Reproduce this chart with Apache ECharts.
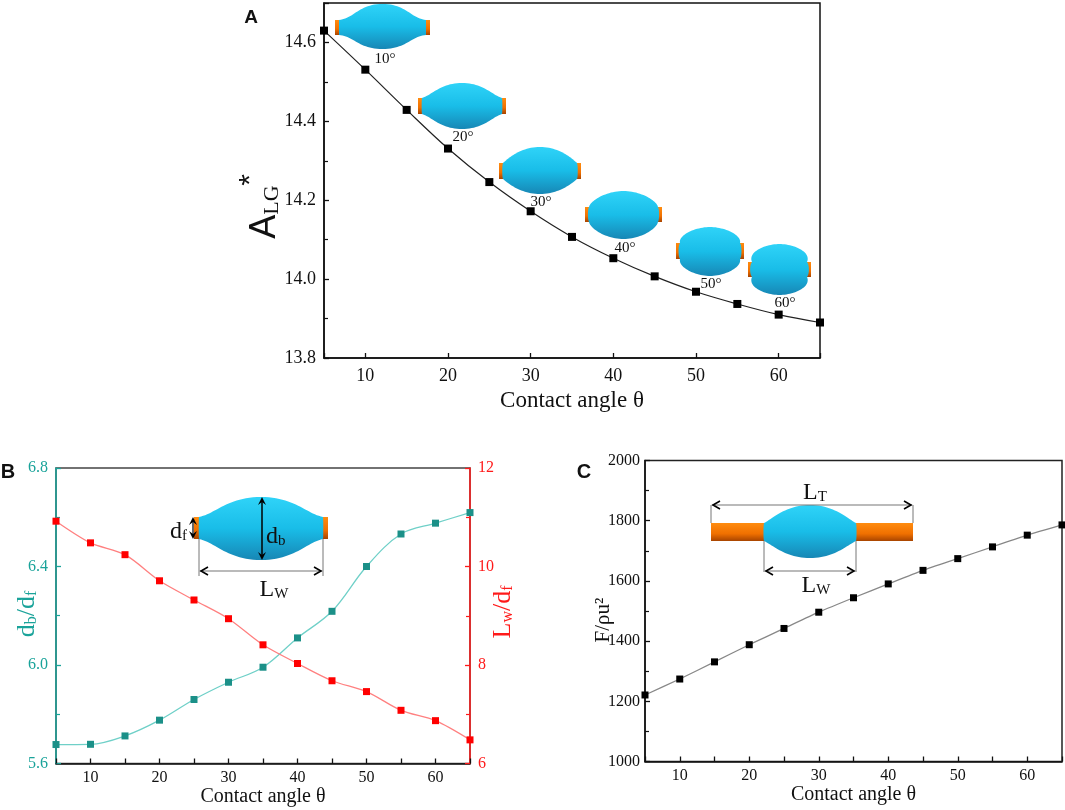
<!DOCTYPE html>
<html>
<head>
<meta charset="utf-8">
<script src="https://cdn.jsdelivr.net/npm/echarts@6/dist/echarts.min.js"></script>
<style>
html,body{margin:0;padding:0;background:#fff;}
#main{width:1065px;height:810px;}
</style>
</head>
<body>
<div id="main"></div>
<script>
// ---------- data ----------
const angles = [5, 10, 15, 20, 25, 30, 35, 40, 45, 50, 55, 60, 65];
const areaLG = [14.630, 14.531, 14.429, 14.331, 14.246, 14.172, 14.107, 14.053, 14.007, 13.968, 13.937, 13.910, 13.890];
const dbOverDf = [5.677, 5.678, 5.712, 5.776, 5.860, 5.930, 5.991, 6.110, 6.218, 6.400, 6.532, 6.576, 6.619];
const lwOverDf = [10.92, 10.48, 10.24, 9.71, 9.32, 8.94, 8.41, 8.03, 7.68, 7.46, 7.08, 6.87, 6.48];
const forceF = [1221, 1274, 1331, 1388, 1442, 1496, 1544, 1590, 1635, 1674, 1713, 1752, 1786];
const insetAngles = ['10°', '20°', '30°', '40°', '50°', '60°'];

const SERIF = 'Liberation Serif, Times New Roman, serif';
const SANS = 'Liberation Sans, Arial, sans-serif';
const TEAL = '#1aa39a';
const RED = '#ff1a1a';

function pairs(xs, ys) { return xs.map((x, i) => [x, ys[i]]); }

const chart = echarts.init(document.getElementById('main'), null, {renderer: 'canvas'});

// ---------- decoration helpers ----------
function bodyGrad() {
  return new echarts.graphic.LinearGradient(0, 0, 0, 1, [
    {offset: 0, color: '#2fd3f8'},
    {offset: 0.5, color: '#19bde8'},
    {offset: 1, color: '#1787b5'}
  ]);
}
function orangeGrad() {
  return new echarts.graphic.LinearGradient(0, 0, 0, 1, [
    {offset: 0, color: '#ff8c10'},
    {offset: 0.6, color: '#f07000'},
    {offset: 1, color: '#a84400'}
  ]);
}
function cubic(p0, p1, p2, p3, n, out) {
  for (let i = 1; i <= n; i++) {
    const s = i / n, u = 1 - s;
    out.push([
      u * u * u * p0[0] + 3 * u * u * s * p1[0] + 3 * u * s * s * p2[0] + s * s * s * p3[0],
      u * u * u * p0[1] + 3 * u * u * s * p1[1] + 3 * u * s * s * p2[1] + s * s * s * p3[1]
    ]);
  }
}
function dropletPoints(x0, x1, top, bot, nt, nb, t) {
  const cx = (x0 + x1) / 2, hw = (x1 - x0) / 2;
  const hu = nt - top, hd = bot - nb;
  const ax = (0.35 - 0.52 * t) * hw;
  const bu = (0.1 + 0.5 * t) * hu, bd = (0.1 + 0.5 * t) * hd;
  const k = (0.55 - 0.08 * t) * hw;
  const bulge = 2.5 * t;
  const pts = [[x0, nt]];
  cubic([x0, nt], [x0 + ax, nt - bu], [cx - k, top], [cx, top], 24, pts);
  cubic([cx, top], [cx + k, top], [x1 - ax, nt - bu], [x1, nt], 24, pts);
  cubic([x1, nt], [x1 + bulge, nt + 2], [x1 + bulge, nb - 2], [x1, nb], 8, pts);
  cubic([x1, nb], [x1 - ax, nb + bd], [cx + k, bot], [cx, bot], 24, pts);
  cubic([cx, bot], [cx - k, bot], [x0 + ax, nb + bd], [x0, nb], 24, pts);
  cubic([x0, nb], [x0 - bulge, nb - 2], [x0 - bulge, nt + 2], [x0, nt], 8, pts);
  return pts;
}
function droplet(d, capW) {
  const els = [];
  els.push({type: 'rect', shape: {x: d.x0 - capW + 1, y: d.nt, width: capW, height: d.nb - d.nt}, style: {fill: orangeGrad()}, z: 100});
  els.push({type: 'rect', shape: {x: d.x1 - 1, y: d.nt, width: capW, height: d.nb - d.nt}, style: {fill: orangeGrad()}, z: 100});
  els.push({type: 'polygon', shape: {points: dropletPoints(d.x0, d.x1, d.top, d.bot, d.nt, d.nb, d.t)}, style: {fill: bodyGrad()}, z: 101});
  return els;
}
function line(x1, y1, x2, y2, color, w) {
  return {type: 'line', shape: {x1: x1, y1: y1, x2: x2, y2: y2}, style: {stroke: color, lineWidth: w || 1}, z: 102};
}
function hArrow(xa, xb, y, lineColor) {
  return [
    line(xa, y, xb, y, lineColor, 1.2),
    {type: 'polyline', shape: {points: [[xa + 8, y - 4], [xa + 1, y], [xa + 8, y + 4]]}, style: {stroke: '#000', lineWidth: 1.6, fill: null}, z: 103},
    {type: 'polyline', shape: {points: [[xb - 8, y - 4], [xb - 1, y], [xb - 8, y + 4]]}, style: {stroke: '#000', lineWidth: 1.6, fill: null}, z: 103}
  ];
}
function vArrow(x, ya, yb, lw) {
  return [
    line(x, ya + 2, x, yb - 2, '#000', lw || 1.4),
    {type: 'polygon', shape: {points: [[x - 4, ya + 8], [x, ya], [x + 4, ya + 8], [x, ya + 5]]}, style: {fill: '#000'}, z: 103},
    {type: 'polygon', shape: {points: [[x - 4, yb - 8], [x, yb], [x + 4, yb - 8], [x, yb - 5]]}, style: {fill: '#000'}, z: 103}
  ];
}
function txt(x, y, text, size, opts) {
  opts = opts || {};
  const style = {text: text, fontSize: size, fontFamily: opts.family || SERIF, fill: opts.color || '#111',
      fontWeight: opts.weight || 'normal', align: opts.align || 'center', verticalAlign: opts.valign || 'middle'};
  if (opts.rich) style.rich = opts.rich;
  return {type: 'text', x: x, y: y, rotation: opts.rotation || 0, z: 110, style: style};
}
function subRich(main, sub, color, family) {
  return {
    m: {fontSize: main, fontFamily: family || SERIF, fill: color, lineHeight: main * 1.15, verticalAlign: 'bottom'},
    s: {fontSize: sub, fontFamily: SERIF, fill: color, lineHeight: main * 0.95, verticalAlign: 'bottom'}
  };
}

// ---------- insets ----------
const graphics = [];
const dropsA = [
  {x0: 339, x1: 426, top: 4, bot: 49, nt: 20, nb: 35, t: 0.0, lx: 385, ly: 59},
  {x0: 422, x1: 502, top: 83, bot: 129, nt: 98, nb: 114, t: 0.2, lx: 463, ly: 137},
  {x0: 503, x1: 577, top: 147, bot: 194, nt: 163, nb: 179, t: 0.4, lx: 541, ly: 202},
  {x0: 589, x1: 658, top: 191, bot: 239, nt: 207, nb: 222, t: 0.6, lx: 625, ly: 248},
  {x0: 680, x1: 740, top: 227, bot: 276, nt: 243, nb: 259, t: 0.8, lx: 711, ly: 284},
  {x0: 752, x1: 807, top: 244, bot: 295, nt: 262, nb: 277, t: 1.0, lx: 785, ly: 303}
];
dropsA.forEach((d, i) => {
  droplet(d, 5).forEach(e => graphics.push(e));
  graphics.push(txt(d.lx, d.ly, insetAngles[i], 15));
});
// Panel B inset
droplet({x0: 199, x1: 323, top: 497, bot: 560, nt: 517, nb: 539, t: 0.15}, 6).forEach(e => graphics.push(e));
vArrow(262, 497, 560, 1.5).forEach(e => graphics.push(e));
vArrow(193, 517, 539, 1.2).forEach(e => graphics.push(e));
graphics.push(line(199, 539, 199, 576, '#777', 1));
graphics.push(line(323, 539, 323, 576, '#777', 1));
hArrow(200, 322, 571, '#777').forEach(e => graphics.push(e));
graphics.push(txt(266, 535, '{m|d}{s|b}', 22, {align: 'left', rich: subRich(24, 15, '#111')}));
graphics.push(txt(187, 530, '{m|d}{s|f}', 22, {align: 'right', rich: subRich(24, 15, '#111')}));
graphics.push(txt(274, 588, '{m|L}{s|W}', 22, {rich: subRich(24, 15, '#111')}));
// Panel C inset
graphics.push({type: 'rect', shape: {x: 711, y: 523, width: 202, height: 18}, style: {fill: orangeGrad()}, z: 100});
graphics.push({type: 'polygon', shape: {points: dropletPoints(764, 856, 505, 558, 523, 541, 0.3)}, style: {fill: bodyGrad()}, z: 101});
graphics.push(line(711, 505, 711, 523, '#777', 1));
graphics.push(line(913, 505, 913, 523, '#777', 1));
hArrow(712, 912, 505, '#777').forEach(e => graphics.push(e));
graphics.push(line(764, 541, 764, 572, '#777', 1));
graphics.push(line(856, 541, 856, 572, '#777', 1));
hArrow(765, 855, 571, '#777').forEach(e => graphics.push(e));
graphics.push(txt(815, 491, '{m|L}{s|T}', 22, {rich: subRich(24, 15, '#111')}));
graphics.push(txt(816, 584, '{m|L}{s|W}', 22, {rich: subRich(24, 15, '#111')}));

// Panel letters
graphics.push(txt(251, 18, 'A', 19, {family: SANS, weight: 'bold'}));
graphics.push(txt(8, 472, 'B', 20, {family: SANS, weight: 'bold'}));
graphics.push(txt(584, 472, 'C', 20, {family: SANS, weight: 'bold'}));

// Y axis titles (rotated)
graphics.push(txt(263, 212, '{a|A}{s|LG}', 32, {rotation: Math.PI / 2, rich: {
  a: {fontSize: 36, fontFamily: SANS, fill: '#111', lineHeight: 40, verticalAlign: 'bottom'},
  s: {fontSize: 22, fontFamily: SERIF, fill: '#111', lineHeight: 30, verticalAlign: 'bottom'}
}}));
graphics.push(txt(251, 180, '*', 30, {family: SANS, rotation: Math.PI / 2}));
graphics.push(txt(25, 614, '{m|d}{s|b}{m|/d}{s|f}', 24, {rotation: Math.PI / 2, rich: subRich(26, 16, TEAL)}));
graphics.push(txt(501, 612, '{m|L}{s|w}{m|/d}{s|f}', 24, {rotation: Math.PI / 2, rich: subRich(26, 16, RED)}));
graphics.push(txt(603, 620, 'F/ρu²', 21, {rotation: Math.PI / 2}));

// ---------- axes ----------
function xAxisCfg(gridIndex, opts) {
  return Object.assign({
    type: 'value', gridIndex: gridIndex, min: 5, max: 65,
    name: 'Contact angle θ', nameLocation: 'middle',
    nameTextStyle: {fontFamily: SERIF, fontSize: 20, color: '#111'},
    axisLine: {show: true, lineStyle: {color: '#111', width: 1.5}},
    axisTick: {show: true, inside: true, length: 5, lineStyle: {color: '#111', width: 1.3}},
    splitLine: {show: false},
    axisLabel: {fontFamily: SERIF, fontSize: 16, color: '#111', margin: 6,
      formatter: v => (v % 10 === 0 && v > 5 && v < 65) ? String(v) : ''}
  }, opts);
}

const option = {
  backgroundColor: '#fff',
  animation: false,
  grid: [
    {left: 324, top: 3, width: 496, height: 355, show: true, borderColor: '#111', borderWidth: 1.5, containLabel: false},
    {left: 56, top: 468, width: 414, height: 295.5, show: true, borderColor: '#444', borderWidth: 1.5, containLabel: false},
    {left: 645, top: 460.5, width: 418, height: 301, show: true, borderColor: '#222', borderWidth: 1.5, containLabel: false}
  ],
  xAxis: [
    xAxisCfg(0, {splitNumber: 6, nameGap: 31, nameTextStyle: {fontFamily: SERIF, fontSize: 23, color: '#111'},
      axisLabel: {fontFamily: SERIF, fontSize: 18, color: '#111', margin: 9,
        formatter: v => (v % 10 === 0 && v > 5 && v < 65) ? String(v) : ''}}),
    xAxisCfg(1, {interval: 5, nameGap: 21}),
    xAxisCfg(2, {interval: 5, nameGap: 22})
  ],
  yAxis: [
    {type: 'value', gridIndex: 0, min: 13.8, max: 14.7, interval: 0.2,
      axisLine: {show: true, lineStyle: {color: '#111', width: 1.5}},
      axisTick: {show: true, inside: true, length: 5, lineStyle: {color: '#111', width: 1.3}},
      minorTick: {show: true, splitNumber: 2, length: 4, lineStyle: {color: '#111', width: 1.2}},
      splitLine: {show: false},
      axisLabel: {fontFamily: SERIF, fontSize: 18, color: '#111', margin: 8,
        formatter: v => v > 14.65 ? '' : v.toFixed(1)}},
    {type: 'value', gridIndex: 1, min: 5.6, max: 6.8, interval: 0.4, position: 'left',
      axisLine: {show: true, lineStyle: {color: TEAL, width: 1.5}},
      axisTick: {show: true, inside: true, length: 5, lineStyle: {color: TEAL, width: 1.3}},
      minorTick: {show: true, splitNumber: 2, length: 4, lineStyle: {color: TEAL, width: 1.2}},
      splitLine: {show: false},
      axisLabel: {fontFamily: SERIF, fontSize: 16, color: TEAL, margin: 8, formatter: v => v.toFixed(1)}},
    {type: 'value', gridIndex: 1, min: 6, max: 12, interval: 2, position: 'right',
      axisLine: {show: true, lineStyle: {color: RED, width: 1.5}},
      axisTick: {show: true, inside: true, length: 5, lineStyle: {color: RED, width: 1.3}},
      minorTick: {show: true, splitNumber: 2, length: 4, lineStyle: {color: RED, width: 1.2}},
      splitLine: {show: false},
      axisLabel: {fontFamily: SERIF, fontSize: 16, color: RED, margin: 8, formatter: v => String(v)}},
    {type: 'value', gridIndex: 2, min: 1000, max: 2000, interval: 200,
      axisLine: {show: true, lineStyle: {color: '#111', width: 1.5}},
      axisTick: {show: true, inside: true, length: 5, lineStyle: {color: '#111', width: 1.3}},
      minorTick: {show: true, splitNumber: 2, length: 4, lineStyle: {color: '#111', width: 1.2}},
      splitLine: {show: false},
      axisLabel: {fontFamily: SERIF, fontSize: 16, color: '#111', margin: 5, formatter: v => String(v)}}
  ],
  series: [
    {type: 'line', xAxisIndex: 0, yAxisIndex: 0, data: pairs(angles, areaLG), smooth: 0.35,
      symbol: 'rect', symbolSize: 8, itemStyle: {color: '#000'}, lineStyle: {color: '#222', width: 1.2}, z: 5},
    {type: 'line', xAxisIndex: 1, yAxisIndex: 1, data: pairs(angles, dbOverDf), smooth: 0.35,
      symbol: 'rect', symbolSize: 7, itemStyle: {color: '#1b9088'}, lineStyle: {color: '#6fd0c8', width: 1.3}, z: 5},
    {type: 'line', xAxisIndex: 1, yAxisIndex: 2, data: pairs(angles, lwOverDf), smooth: 0.3,
      symbol: 'rect', symbolSize: 7, itemStyle: {color: '#ff0000'}, lineStyle: {color: '#ff8080', width: 1.3}, z: 5},
    {type: 'line', xAxisIndex: 2, yAxisIndex: 3, data: pairs(angles, forceF), smooth: 0.2,
      symbol: 'rect', symbolSize: 7, itemStyle: {color: '#000'}, lineStyle: {color: '#888', width: 1.3}, z: 5}
  ],
  graphic: {elements: graphics}
};
chart.setOption(option);
</script>
</body>
</html>
